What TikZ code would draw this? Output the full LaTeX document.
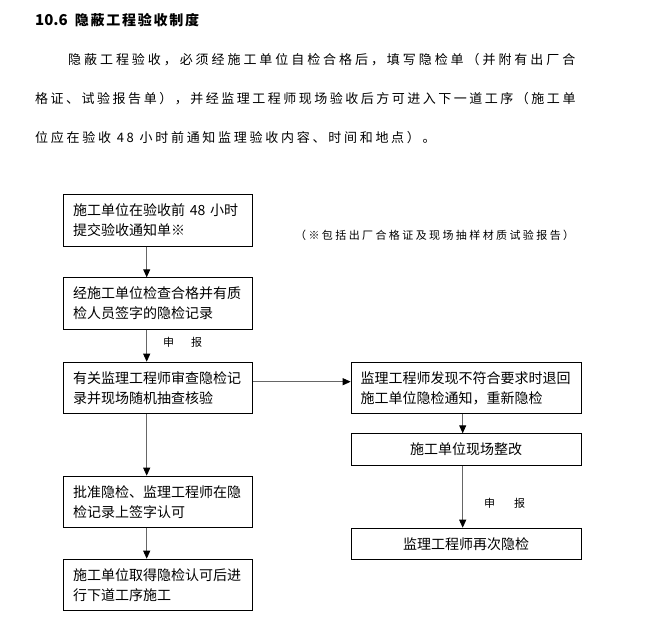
\documentclass[tikz,border=0pt]{standalone}
\usepackage{fontspec}
\setmainfont{Noto Sans CJK SC}
\usetikzlibrary{arrows.meta}
\tikzset{
  box/.style={draw=black, line width=0.9bp, rectangle, inner xsep=9.4bp, inner ysep=0pt,
    anchor=north west, font=\fontsize{14bp}{20bp}\selectfont},
  lbox/.style={box, minimum width=189bp, minimum height=51.7bp, text width=170.2bp, align=left},
  rbox/.style={box, minimum width=230bp, text width=211.2bp},
  conn/.style={draw=black!60, line width=0.9bp, -{Triangle[width=7bp,length=8bp,color=black]}},
  para/.style={anchor=west, inner sep=0pt},
  lab/.style={anchor=west, inner sep=0pt, font=\fontsize{11bp}{11bp}\selectfont}
}
\begin{document}
\begin{tikzpicture}[x=1bp,y=-1bp]
\useasboundingbox (0,0) rectangle (649,629);
% title and paragraph
\node[para] (title) at (35,20) {\bfseries{\fontsize{15bp}{15bp}\selectfont 10.6}\hspace{7bp}{\fontsize{14bp}{14bp}\selectfont\addfontfeature{LetterSpace=12.5}隐蔽工程验收制度}};
\node[para, font=\fontsize{13bp}{13bp}\selectfont\addfontfeature{LetterSpace=22.6}] (p1) at (68,60) {隐蔽工程验收，必须经施工单位自检合格后，填写隐检单（并附有出厂合};
\node[para, font=\fontsize{13bp}{13bp}\selectfont\addfontfeature{LetterSpace=19.3}] (p2) at (35,99) {格证、试验报告单），并经监理工程师现场验收后方可进入下一道工序（施工单};
\node[para, font=\fontsize{13bp}{13bp}\selectfont\addfontfeature{LetterSpace=21}] (p3) at (35,138) {位应在验收 48 小时前通知监理验收内容、时间和地点）。};
% note
\node[para, font=\fontsize{11bp}{11bp}\selectfont\addfontfeature{LetterSpace=21.8}] (note) at (295,235) {（※包括出厂合格证及现场抽样材质试验报告）};
% left column
\node[lbox] (b1) at (63.3,194) {施工单位在验收前 48 小时\\提交验收通知单※};
\node[lbox] (b2) at (63.3,277.3) {经施工单位检查合格并有质\\检人员签字的隐检记录};
\node[lbox] (b3) at (63.3,361.7) {有关监理工程师审查隐检记\\录并现场随机抽查核验};
\node[lbox] (b4) at (63.3,475.7) {批准隐检、监理工程师在隐\\检记录上签字认可};
\node[lbox] (b5) at (63.3,558.7) {施工单位取得隐检认可后进\\行下道工序施工};
% right column
\node[rbox, minimum height=51.6bp, align=left] (r1) at (350.7,361.7) {监理工程师发现不符合要求时退回\\施工单位隐检通知，重新隐检};
\node[rbox, minimum height=31.7bp, align=center] (r2) at (350.7,433.3) {施工单位现场整改};
\node[rbox, minimum height=31.3bp, align=center] (r3) at (350.7,527.7) {监理工程师再次隐检};
% labels
\node[lab] (l1) at (163,342) {申\hspace{17bp}报};
\node[lab] (l2) at (484,503) {申\hspace{19bp}报};
% connectors
\coordinate (lx) at (146.7,0);
\coordinate (rx) at (462.7,0);
\coordinate (hy) at (0,381.7);
\draw[conn] (b1.south -| lx) -- (b2.north -| lx);
\draw[conn] (b2.south -| lx) -- (b3.north -| lx);
\draw[conn] (b3.south -| lx) -- (b4.north -| lx);
\draw[conn] (b4.south -| lx) -- (b5.north -| lx);
\draw[conn] (b3.east |- hy) -- (r1.west |- hy);
\draw[conn] (r1.south -| rx) -- (r2.north -| rx);
\draw[conn] (r2.south -| rx) -- (r3.north -| rx);
\end{tikzpicture}
\end{document}
